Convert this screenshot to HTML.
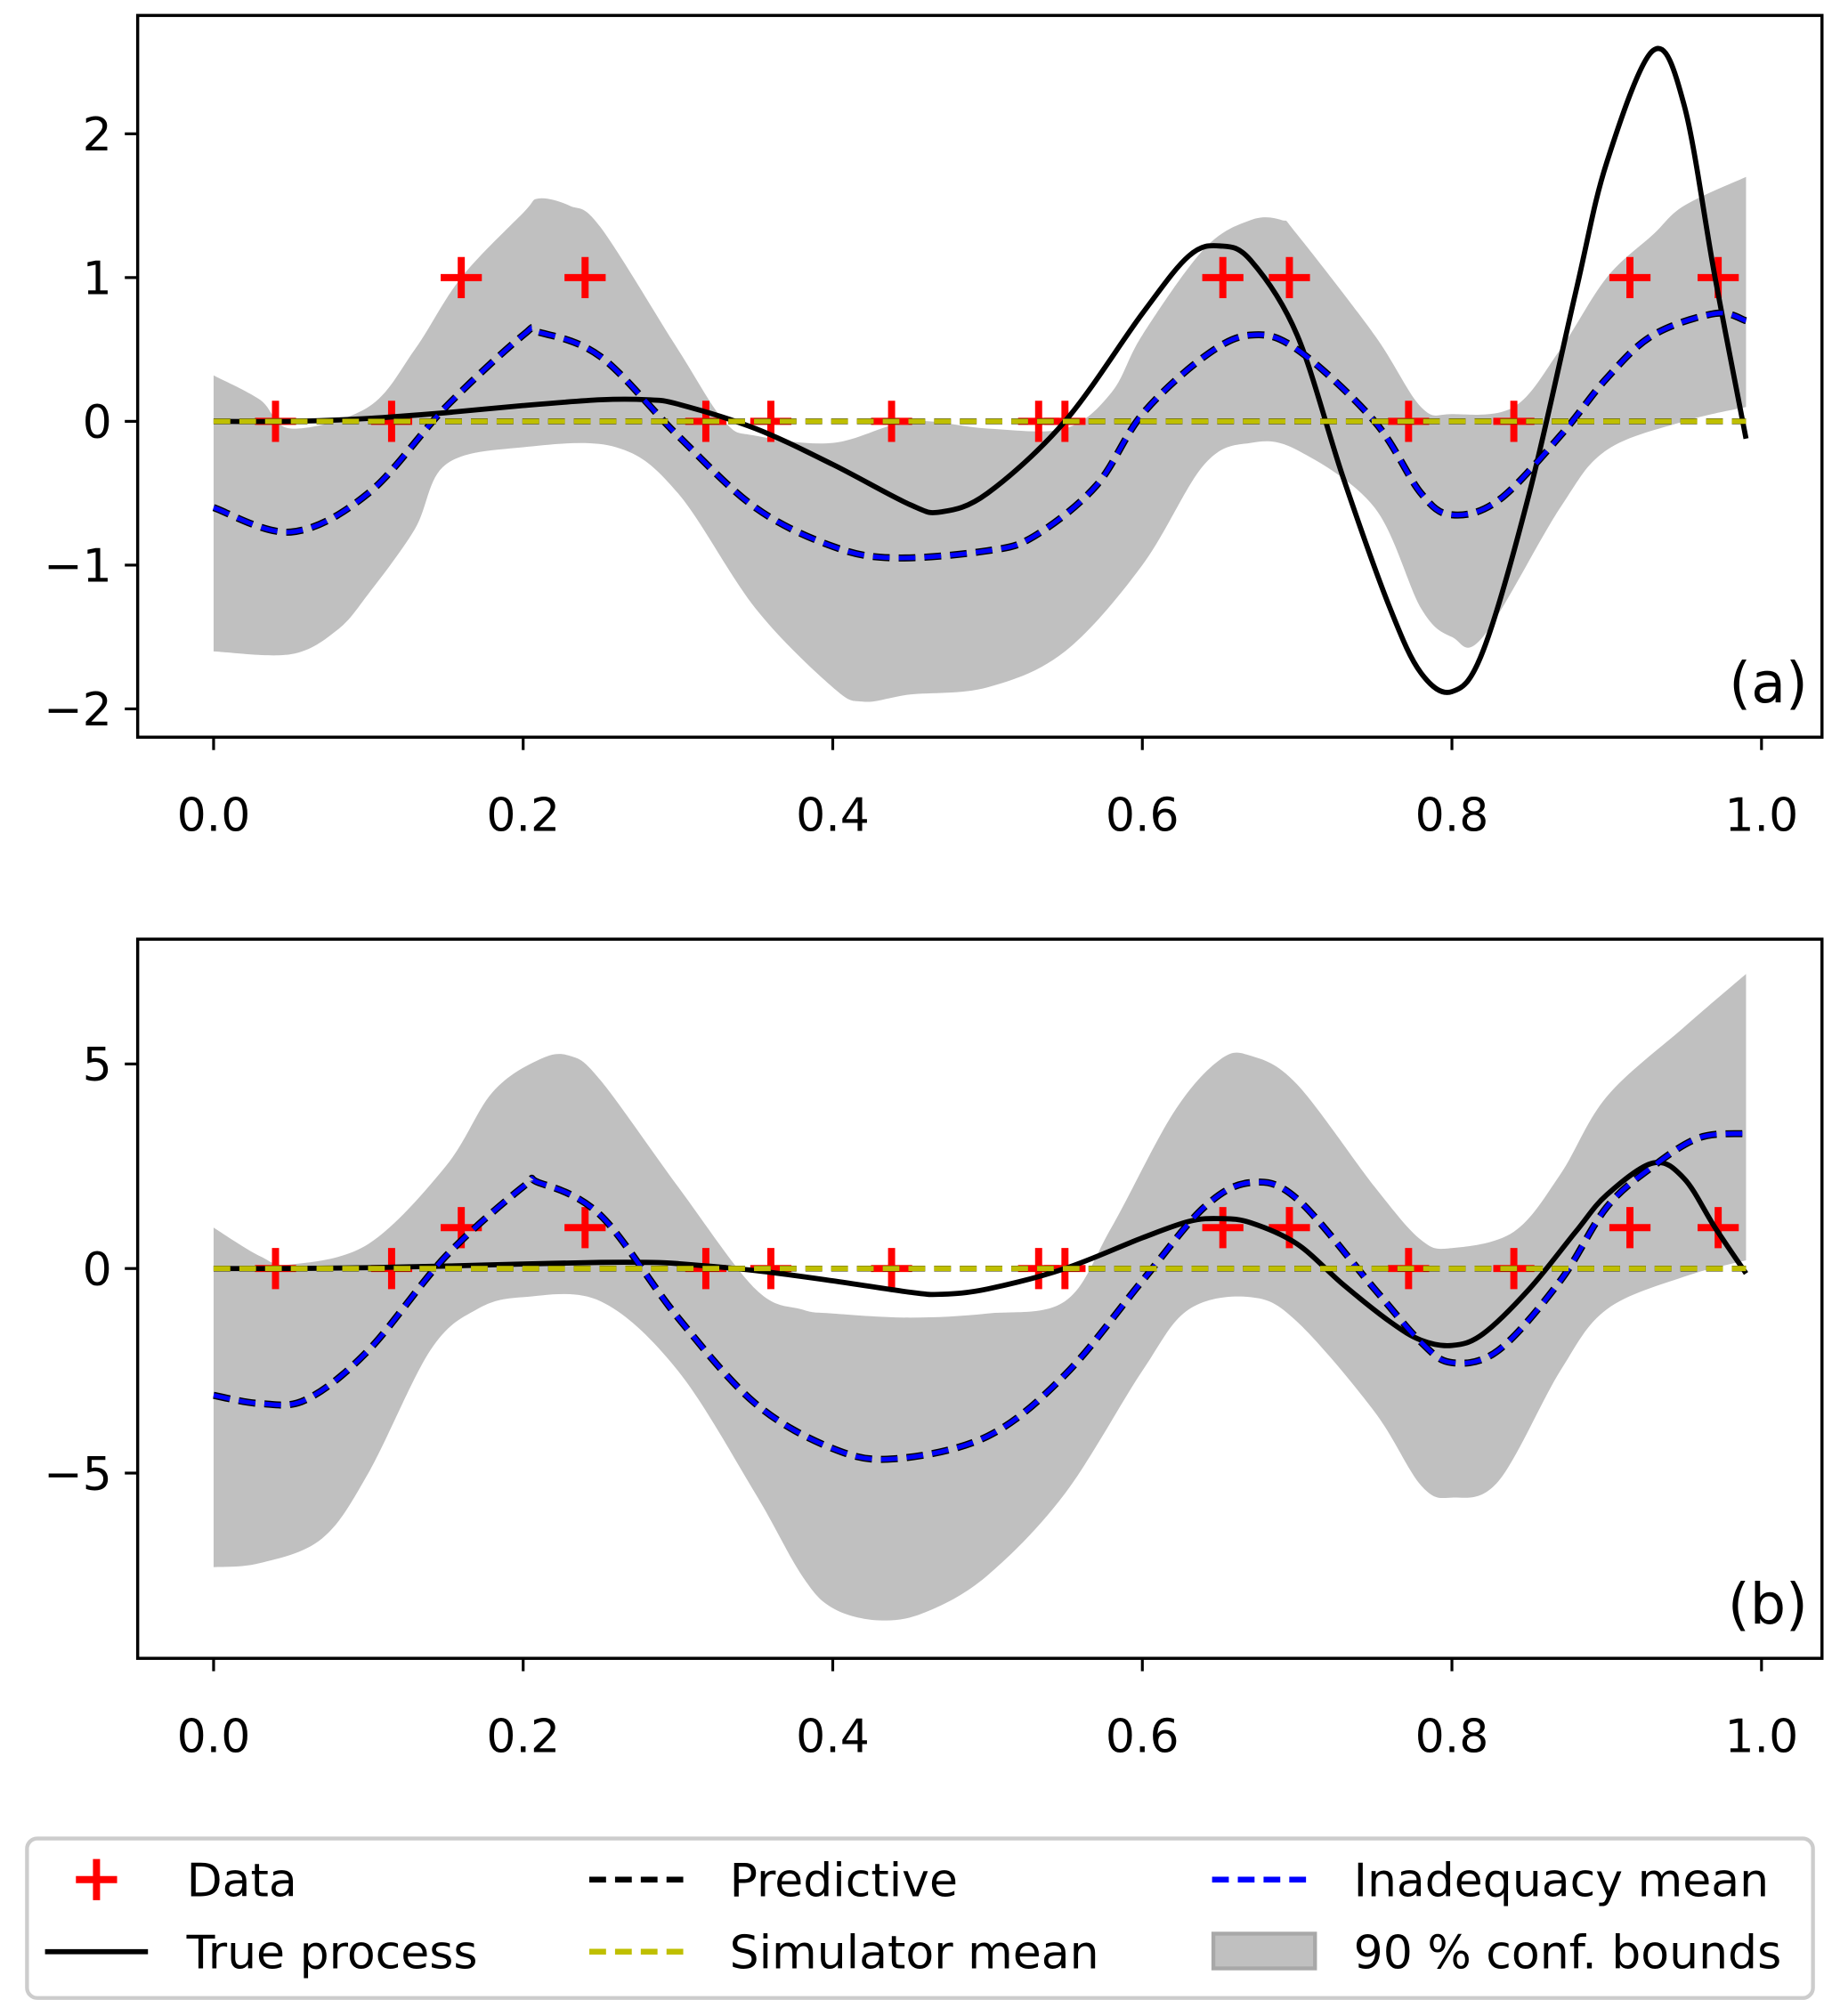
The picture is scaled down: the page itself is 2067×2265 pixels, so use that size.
<!DOCTYPE html>
<html><head><meta charset="utf-8"><style>
html,body{margin:0;padding:0;background:#fff}
svg{display:block}
text{font-family:"DejaVu Sans","Liberation Sans",sans-serif;fill:#000}
</style></head><body>
<svg id="fig" width="2067" height="2265" viewBox="0 0 1430 1567" preserveAspectRatio="none" xmlns="http://www.w3.org/2000/svg">
<g id="panels"></g>
<g id="legend">
  <rect x="21" y="1429" width="1388" height="124" rx="8" fill="#fff" stroke="#cccccc" stroke-width="3"/>
  <g>
    <path d="M59 1461 H91 M75 1445 V1477" stroke="red" stroke-width="5.5"/>
    <text x="145" y="1474" font-size="36">Data</text>
  </g>
  <g>
    <line x1="35" y1="1517" x2="115" y2="1517" stroke="#000" stroke-width="4"/>
    <text x="145" y="1530" font-size="36">True process</text>
  </g>
  <g>
    <line x1="458" y1="1461" x2="532" y2="1461" stroke="#000" stroke-width="4.5" stroke-dasharray="13,7"/>
    <text x="567" y="1474" font-size="36">Predictive</text>
  </g>
  <g>
    <line x1="458" y1="1517" x2="532" y2="1517" stroke="#bfbf00" stroke-width="4.5" stroke-dasharray="13,7"/>
    <text x="567" y="1530" font-size="36">Simulator mean</text>
  </g>
  <g>
    <line x1="942" y1="1461" x2="1022" y2="1461" stroke="#0000ff" stroke-width="4.5" stroke-dasharray="13,7"/>
    <text x="1052" y="1474" font-size="36">Inadequacy mean</text>
  </g>
  <g>
    <rect x="943" y="1503" width="79" height="27" fill="#c0c0c0" stroke="#a8a8a8" stroke-width="3"/>
    <text x="1052" y="1530" font-size="36">90 % conf. bounds</text>
  </g>
</g>
</svg>
<script>
// ---------- data ----------
const dataX = [0.04,0.115,0.16,0.24,0.318,0.36,0.438,0.533,0.55,0.652,0.695,0.772,0.84,0.915,0.972];
const dataY = [0,0,1,1,0,0,0,0,0,1,1,0,0,1,1];

const trueX = [0,0.05,0.1,0.15,0.2,0.25,0.28,0.3,0.35,0.4,0.45,0.47,0.5,0.55,0.6,0.63,0.65,0.67,0.7,0.73,0.76,0.78,0.8,0.82,0.85,0.88,0.9,0.93,0.95,0.97,0.99];
const trueY = [0,0,0.02,0.06,0.11,0.15,0.15,0.12,-0.05,-0.3,-0.58,-0.63,-0.5,0,0.75,1.15,1.22,1.12,0.6,-0.4,-1.3,-1.75,-1.88,-1.6,-0.5,0.9,1.8,2.58,2.2,1.0,-0.12];

const inadAX = [0,0.05,0.1,0.15,0.2,0.21,0.25,0.3,0.35,0.4,0.44,0.5,0.53,0.57,0.6,0.64,0.67,0.7,0.75,0.78,0.8,0.83,0.87,0.9,0.93,0.97,0.99];
const inadAY = [-0.6,-0.77,-0.5,0.1,0.6,0.62,0.45,-0.1,-0.6,-0.87,-0.95,-0.9,-0.8,-0.45,0.05,0.45,0.6,0.5,0,-0.5,-0.65,-0.55,-0.1,0.3,0.6,0.75,0.7];

const bandAUX = [0,0.03,0.05,0.1,0.13,0.16,0.2,0.21,0.23,0.25,0.3,0.33,0.35,0.4,0.45,0.5,0.55,0.58,0.6,0.64,0.67,0.69,0.7,0.75,0.78,0.8,0.84,0.87,0.9,0.93,0.95,0.99];
const bandAU = [0.32,0.15,-0.05,0.1,0.5,1.0,1.45,1.55,1.5,1.35,0.5,0,-0.1,-0.15,0.0,-0.05,-0.05,0.2,0.6,1.2,1.4,1.4,1.3,0.6,0.1,0.05,0.1,0.5,1.0,1.3,1.5,1.7];
const bandALX = [0,0.05,0.08,0.1,0.13,0.15,0.2,0.26,0.3,0.35,0.4,0.42,0.45,0.5,0.55,0.6,0.64,0.67,0.7,0.75,0.78,0.8,0.82,0.87,0.9,0.95,0.99];
const bandAL = [-1.6,-1.62,-1.45,-1.2,-0.75,-0.3,-0.18,-0.18,-0.5,-1.3,-1.85,-1.95,-1.9,-1.85,-1.6,-1.0,-0.3,-0.15,-0.2,-0.6,-1.3,-1.5,-1.5,-0.6,-0.2,0,0.1];

const inadBX = [0,0.03,0.06,0.1,0.15,0.2,0.21,0.25,0.3,0.35,0.4,0.44,0.5,0.55,0.6,0.64,0.67,0.7,0.75,0.78,0.8,0.83,0.87,0.9,0.93,0.96,0.99];
const inadBY = [-3.1,-3.3,-3.2,-2.0,0.3,2.0,2.1,1.3,-1.2,-3.3,-4.4,-4.65,-4.1,-2.6,-0.3,1.5,2.1,1.7,-0.5,-1.8,-2.3,-2.0,-0.3,1.5,2.5,3.2,3.3];

const bandBUX = [0,0.03,0.05,0.1,0.15,0.18,0.21,0.23,0.25,0.3,0.35,0.38,0.4,0.45,0.5,0.55,0.58,0.62,0.65,0.67,0.7,0.75,0.78,0.8,0.84,0.87,0.9,0.95,0.99];
const bandBU = [1.0,0.3,0.1,0.6,2.5,4.3,5.1,5.2,4.6,2.0,-0.5,-1.0,-1.1,-1.2,-1.1,-0.8,1.0,3.8,5.1,5.2,4.5,2.0,0.7,0.5,0.9,2.3,4.2,5.9,7.2];
const bandBLX = [0,0.03,0.07,0.1,0.14,0.17,0.2,0.25,0.3,0.35,0.38,0.4,0.43,0.46,0.5,0.55,0.6,0.63,0.67,0.7,0.75,0.78,0.8,0.83,0.87,0.9,0.95,0.99];
const bandBL = [-7.3,-7.2,-6.6,-5.0,-2.0,-1.0,-0.7,-0.8,-2.5,-5.5,-7.5,-8.3,-8.6,-8.4,-7.5,-5.5,-2.5,-1.0,-0.7,-1.3,-3.5,-5.3,-5.6,-5.2,-2.5,-1.0,-0.2,0.2];

const xTicks = [0,0.2,0.4,0.6,0.8,1.0];
const xTickLabels = ["0.0","0.2","0.4","0.6","0.8","1.0"];
const yTicksA = [-2,-1,0,1,2];
const yTickLabelsA = ["\u22122","\u22121","0","1","2"];
const yTicksB = [-5,0,5];
const yTickLabelsB = ["\u22125","0","5"];

// ---------- drawing ----------
const NS = "http://www.w3.org/2000/svg";
const root = document.getElementById('panels');
function mk(tag, attrs, parent){ const e=document.createElementNS(NS,tag); for(const k in attrs) e.setAttribute(k,attrs[k]); parent.appendChild(e); return e; }
function smooth(pts){
  let d = `M${pts[0][0]},${pts[0][1]}`;
  for(let i=0;i<pts.length-1;i++){
    const p0=pts[Math.max(0,i-1)],p1=pts[i],p2=pts[i+1],p3=pts[Math.min(pts.length-1,i+2)];
    const c1=[p1[0]+(p2[0]-p0[0])/6,p1[1]+(p2[1]-p0[1])/6];
    const c2=[p2[0]-(p3[0]-p1[0])/6,p2[1]-(p3[1]-p1[1])/6];
    d+=` C${c1[0]},${c1[1]} ${c2[0]},${c2[1]} ${p2[0]},${p2[1]}`;
  }
  return d;
}
function panel(cfg){
  const g = mk('g',{},root);
  
  
  const X = v => 166 + v*1203;
  const Y = v => cfg.y0 - v*cfg.sy;
  const pts=(xs,ys)=>xs.map((x,i)=>[X(x),Y(ys[i])]);
  const up = pts(cfg.bux,cfg.bu), lo = pts(cfg.blx,cfg.bl).reverse();
  const ls = smooth(lo);
  const d = smooth(up) + ' L' + lo[0][0]+','+lo[0][1] + ls.slice(ls.indexOf(' C')) + ' Z';
  const band = mk('path',{d:d,fill:'#c0c0c0',stroke:'none'},g);
  
  
  dataX.forEach((x,i)=>{
    const cx=X(x), cy=Y(dataY[i]);
    const m = mk('path',{d:`M${cx-16},${cy} H${cx+16} M${cx},${cy-16} V${cy+16}`,stroke:'red','stroke-width':5.5},g);
    
    
  });
  const tp = mk('path',{d:smooth(pts(trueX,trueY)),fill:'none',stroke:'#000','stroke-width':4},g);
  
  
  const pr = mk('path',{d:smooth(pts(cfg.ix,cfg.iy)),fill:'none',stroke:'#000','stroke-width':5.5,'stroke-dasharray':'13,7'},g);
  
  
  const ia = mk('path',{d:smooth(pts(cfg.ix,cfg.iy)),fill:'none',stroke:'#0000ff','stroke-width':3.5,'stroke-dasharray':'13,7'},g);
  
  
  const pb = mk('line',{x1:X(0),y1:Y(0),x2:X(0.99),y2:Y(0),stroke:'#000','stroke-width':4.5,'stroke-dasharray':'13,7'},g);
  
  
  const sm = mk('line',{x1:X(0),y1:Y(0),x2:X(0.99),y2:Y(0),stroke:'#bfbf00','stroke-width':4,'stroke-dasharray':'13,7'},g);
  
  
  const fr = mk('rect',{x:107,y:cfg.top,width:1309,height:cfg.bot-cfg.top,fill:'none',stroke:'#000','stroke-width':2.4},g);
  
  
  xTicks.forEach((t,i)=>{
    mk('line',{x1:X(t),y1:cfg.bot,x2:X(t),y2:cfg.bot+10,stroke:'#000','stroke-width':2.2},g);
    const tx = mk('text',{x:X(t),y:cfg.bot+73,'font-size':36,'text-anchor':'middle'},g);
    tx.textContent = xTickLabels[i];
    
    
  });
  cfg.yt.forEach((t,i)=>{
    mk('line',{x1:97,y1:Y(t),x2:107,y2:Y(t),stroke:'#000','stroke-width':2.2},g);
    const tx = mk('text',{x:87,y:Y(t)+13,'font-size':36,'text-anchor':'end'},g);
    tx.textContent = cfg.ytl[i];
    
    
  });
  const lab = mk('text',{x:1405,y:cfg.bot-27,'font-size':44,'text-anchor':'end'},g);
  lab.textContent = cfg.label;
  
  
}
panel({name:'panel-a',top:12,bot:573,y0:327.5,sy:111.75,bux:bandAUX,bu:bandAU,blx:bandALX,bl:bandAL,ix:inadAX,iy:inadAY,yt:yTicksA,ytl:yTickLabelsA,label:'(a)'});
panel({name:'panel-b',top:730,bot:1289,y0:986,sy:31.8,bux:bandBUX,bu:bandBU,blx:bandBLX,bl:bandBL,ix:inadBX,iy:inadBY,yt:yTicksB,ytl:yTickLabelsB,label:'(b)'});
</script>
</body></html>
